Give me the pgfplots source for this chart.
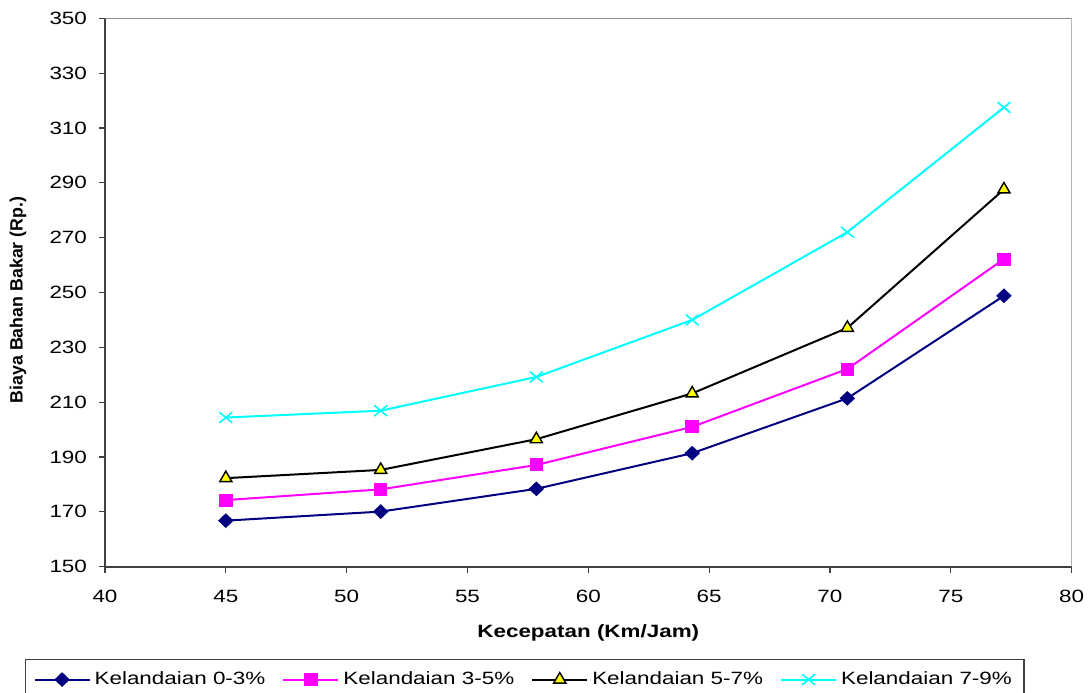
\documentclass[border=0pt]{standalone}
\usepackage{fontspec}
\setmainfont{Liberation Sans}[FakeStretch=1.26]
\newfontfamily\ylabfont{Liberation Sans}
\usepackage{pgfplots}
\pgfplotsset{compat=1.18}

\definecolor{seriesA}{HTML}{000080}
\definecolor{seriesB}{HTML}{FF00FF}
\definecolor{seriesD}{HTML}{00FFFF}
\definecolor{triFill}{HTML}{FFFF00}
\definecolor{axisDark}{HTML}{404040}
\definecolor{frameGray}{HTML}{8C8C8C}

\pgfplotsset{
  every non boxed x axis/.append style={xtick align=outside, x axis line style={-}},
  every non boxed y axis/.append style={ytick align=outside, y axis line style={-}},
}

\begin{document}
\begin{tikzpicture}
\useasboundingbox (0,0) rectangle (545pt,346pt);
\begin{axis}[
  at={(52.5pt,62.65pt)}, anchor=south west,
  scale only axis, width=483.3pt, height=274.2pt,
  xmin=40, xmax=80, ymin=150, ymax=350,
  xtick={40,45,...,80}, ytick={150,170,...,350},
  axis lines*=left,
  axis line style={-, draw=axisDark, line width=0.9pt},
  tick align=outside,
  major tick length=3pt,
  tick style={draw=axisDark, line width=0.6pt},
  /pgf/number format/assume math mode=true,
  ticklabel style={font=\fontsize{8.9}{10}\selectfont},
  yticklabel style={xshift=-2.5pt},
  xticklabel style={yshift=-5pt},
  xlabel={\bfseries Kecepatan (Km/Jam)},
  xlabel style={at={(axis description cs:0.5,0)}, anchor=center, yshift=-33pt,
                font=\fontsize{8.9}{10}\selectfont},
  ylabel={\ylabfont\bfseries Biaya Bahan Bakar (Rp.)},
  ylabel style={at={([xshift=-43.5pt,yshift=-3.75pt]axis description cs:0,0.5)},
                anchor=center, font=\fontsize{8.9}{10}\selectfont},
  legend columns=4,
  legend style={at={(0,0)}, anchor=north west, xshift=-40pt, yshift=-46.15pt,
    draw=axisDark, line width=0.6pt, inner xsep=4pt, inner ysep=4pt,
    font=\fontsize{8.9}{10}\selectfont,
    /tikz/every even column/.append style={column sep=6.5pt}},
  legend image code/.code={
    \draw[mark repeat=2, mark phase=2] plot coordinates {(0pt,0pt) (13.75pt,0pt) (27.5pt,0pt)};
  },
]
% frame on the top and right of the plot area
\draw[frameGray, line width=0.9pt] (rel axis cs:0,1) -- (rel axis cs:1,1) -- (rel axis cs:1,0);

\addplot[seriesA, line width=1pt, mark=diamond*, mark size=3pt,
  mark options={solid, fill=seriesA, xscale=1.4}]
  coordinates {(45,166.8) (51.41,170.1) (57.85,178.4) (64.3,191.4) (70.72,211.4) (77.2,248.8)};
\addlegendentry{Kelandaian 0-3\%}

\addplot[seriesB, line width=1pt, mark=square*, mark size=2.75pt,
  mark options={solid, fill=seriesB, xscale=1.05}]
  coordinates {(45,174.3) (51.41,178.2) (57.85,187.1) (64.3,201.0) (70.72,222.1) (77.2,262.2)};
\addlegendentry{Kelandaian 3-5\%}

\addplot[black, line width=1pt, mark=triangle*, mark size=3.5pt,
  mark options={solid, fill=triFill, draw=black, line width=0.7pt}]
  coordinates {(45,182.3) (51.41,185.3) (57.85,196.5) (64.3,213.2) (70.72,237.1) (77.2,287.6)};
\addlegendentry{Kelandaian 5-7\%}

\addplot[seriesD, line width=1pt, mark=x, mark size=3.8pt,
  mark options={solid, line width=0.8pt, xscale=1.2}]
  coordinates {(45,204.4) (51.41,206.9) (57.85,219.2) (64.3,240.0) (70.72,272.0) (77.2,317.5)};
\addlegendentry{Kelandaian 7-9\%}
\end{axis}
\end{tikzpicture}
\end{document}
